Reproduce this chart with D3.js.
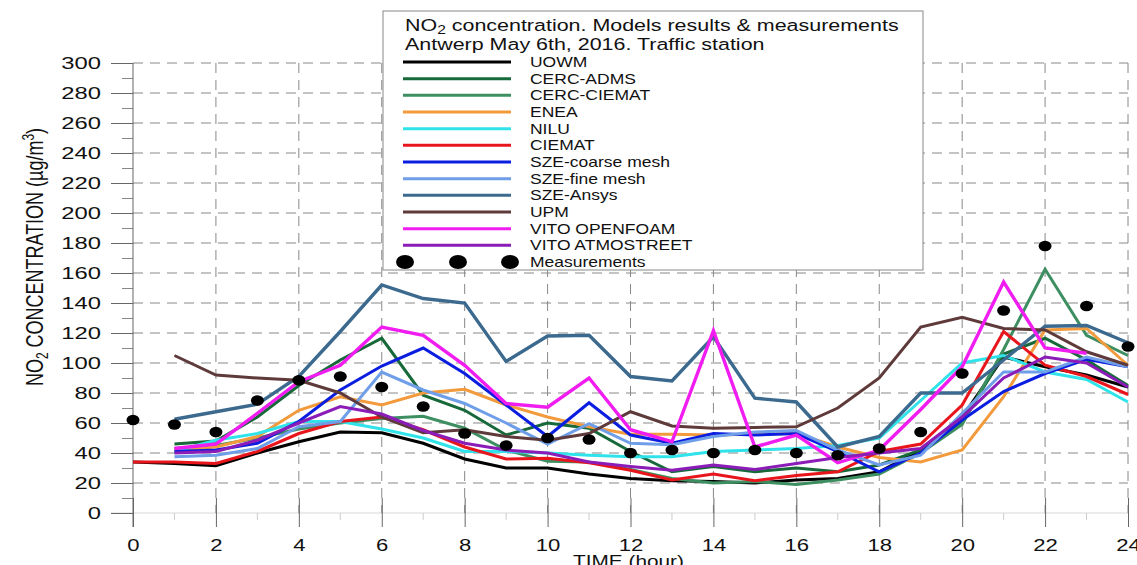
<!DOCTYPE html>
<html>
<head>
<meta charset="utf-8">
<script src="https://cdn.jsdelivr.net/npm/d3@7"></script>
<style>
  body { margin: 0; background: #fff; }
  svg { display: block; font-family: "Liberation Sans", Arial, sans-serif; }
</style>
</head>
<body>
<div id="chart"></div>
<script>
// hours 0..24
const hours = d3.range(0, 25);

// model results (null = no value)
const uowm        = [34, 33, 31.5, 40, 47.5, 54, 53.5, 46.5, 36, 30, 30, 26, 23, 21.5, 21, 20, 22, 23, 27.5, 42, 64, 104, 97.5, 92, 84];
const cercAdms    = [null, 46, 48, 64, 85, 102, 116.5, 78.5, 68.5, 52, 60, 56.5, 41, 27.5, 31, 27.5, 30, 27.5, 32, 42, 60, 106, 116.5, 102, 85];
const cercCiemat  = [null, 43, 45, 50, 56, 60, 63, 64.5, 56.5, 42, 34.5, 34, 29, 23, 20, 21, 19, 22, 26, 40, 59, 109, 162.5, 118.5, 105];
const enea        = [null, 42, 44, 51, 68.5, 77.5, 72, 80, 82.5, 72, 64, 57.5, 52.5, 52.5, 52, 52.5, 53, 44, 37, 34, 42, 77.5, 122, 123, 98.5];
const nilu        = [null, 41, 48.5, 53, 61, 61, 56, 50, 41, 41, 40, 38.5, 37.5, 37.5, 41, 42, 43, 45, 50, 75, 100, 105, 94, 89, 74];
const ciemat      = [34, 34, 33, 41, 53, 61, 64, 55.5, 44, 36, 36.5, 33.5, 28.5, 22, 26, 21.5, 25, 27.5, 41, 46, 72, 121, 98.5, 91, 79];
const szeCoarse   = [null, 41, 42, 46.5, 61, 82, 98, 110, 93, 72, 51, 73.5, 52, 46.5, 53, 52, 53, 41, 27.5, 40, 62, 81, 93, 102.5, 97.5];
const szeFine     = [null, 37.5, 38.5, 43, 57.5, 61, 94, 82, 73, 60, 46, 59.5, 46.5, 45.5, 51, 54, 55, 42, 32, 38.5, 66.5, 94, 94, 104, 97.5];
const szeAnsys    = [null, 62.5, 67.5, 72.5, 91, 121, 152, 143, 140, 101, 118, 118.5, 91, 88, 117.5, 76.5, 74, 44, 51, 80, 80, 102, 124.5, 125, 113.5];
const upm         = [null, 105, 92, 90, 88.5, 80, 64, 53.5, 55.5, 51, 48.5, 53, 67.5, 58, 56.5, 57, 57.5, 70, 90, 124, 130.5, 123, 122, 107.5, 98.5];
const vitoFoam    = [null, 43, 46, 66.5, 87.5, 98.5, 124, 118.5, 98.5, 73, 70.5, 90, 55.5, 47.5, 121.5, 44, 52, 33.5, 42, 69, 97.5, 154, 110, 106.5, null];
const vitoStreet  = [null, 40, 41, 48.5, 60, 71, 66, 55, 46.5, 42, 40, 34, 31, 28.5, 32, 29, 33, 37, 40, 43, 64, 90, 104, 100, 84];

// measurements
const measured    = [62, 59, 54, 75, 88.5, 91, 84, 71, 53, 45, 50, 49, 40, 42, 40, 42, 40, 38.5, 43, 54, 93, 135, 178, 138, 111];

const seriesNames  = ["UOWM", "CERC-ADMS", "CERC-CIEMAT", "ENEA", "NILU", "CIEMAT", "SZE-coarse mesh", "SZE-fine mesh", "SZE-Ansys", "UPM", "VITO OPENFOAM", "VITO ATMOSTREET"];
const seriesValues = [uowm, cercAdms, cercCiemat, enea, nilu, ciemat, szeCoarse, szeFine, szeAnsys, upm, vitoFoam, vitoStreet];
const seriesColors = ["#000000", "#17693a", "#3d8f61", "#f39a3c", "#30e3ea", "#e8161c", "#0b1ee0", "#6f9ee9", "#3c6a8f", "#5e3a3a", "#f01cf0", "#8b1cb8"];

const yTicks = d3.range(0, 301, 20);
const xTicks = d3.range(0, 25, 2);

// horizontal text stretch (the original picture is widened)
const sx = 1.3;

const margin = { top: 63, right: 9, bottom: 52, left: 133 },
      width = 1137 - margin.left - margin.right,
      height = 565 - margin.top - margin.bottom;
const plotH = 450; // 0..300

const svg = d3.select("#chart").append("svg")
    .attr("width", 1137)
    .attr("height", 565);

const g = svg.append("g")
    .attr("transform", `translate(${margin.left},${margin.top})`);

const x = d3.scaleLinear().domain([0, 24]).range([0, width]);
const y = d3.scaleLinear().domain([0, 300]).range([plotH, 0]);

// grid
g.append("g")
    .selectAll("line")
    .data(yTicks.filter(d => d > 0))
    .enter().append("line")
    .attr("x1", 0).attr("x2", width)
    .attr("y1", d => y(d)).attr("y2", d => y(d))
    .attr("stroke", "#888")
    .attr("stroke-dasharray", "10,7");

g.append("line")
    .attr("x1", -22).attr("x2", width)
    .attr("y1", y(0)).attr("y2", y(0))
    .attr("stroke", "#d8d8d8");

g.append("g")
    .selectAll("line")
    .data(xTicks.filter(d => d > 0))
    .enter().append("line")
    .attr("x1", d => x(d)).attr("x2", d => x(d))
    .attr("y1", y(300)).attr("y2", y(0))
    .attr("stroke", "#888")
    .attr("stroke-dasharray", "10,7");

// y axis
const yAxis = g.append("g")
    .call(d3.axisLeft(y).tickValues(yTicks).tickSize(22));
yAxis.select(".domain").remove();
yAxis.selectAll("line").attr("stroke", "#666");
yAxis.selectAll("text")
    .attr("x", 0)
    .attr("transform", `translate(-32,0) scale(1.4,1)`)
    .attr("fill", "#111")
    .style("font-size", "17px");

g.append("g")
    .call(d3.axisLeft(y).tickValues(d3.range(10, 300, 20)).tickSize(11).tickFormat(""))
    .call(a => a.select(".domain").remove())
    .selectAll("line").attr("stroke", "#888");

g.append("line")
    .attr("x1", 0).attr("x2", 0)
    .attr("y1", y(300)).attr("y2", y(0) + 14)
    .attr("stroke", "#666");

// x axis
const xAxis = g.append("g")
    .attr("transform", `translate(0,${y(0) + 14})`)
    .call(d3.axisBottom(x).tickValues(xTicks).tickSize(-29).tickPadding(10));
xAxis.select(".domain").remove();
xAxis.selectAll("line").attr("stroke", "#666");
xAxis.selectAll("text")
    .attr("y", 0)
    .attr("dy", 0)
    .attr("transform", `translate(0,24) scale(${sx},1)`)
    .attr("fill", "#111")
    .style("font-size", "17px");

g.append("g")
    .selectAll("line")
    .data(d3.range(1, 24, 2))
    .enter().append("line")
    .attr("x1", d => x(d)).attr("x2", d => x(d))
    .attr("y1", y(0)).attr("y2", y(0) + 7)
    .attr("stroke", "#ccc");

// axis titles
svg.append("text")
    .attr("transform", `translate(${margin.left + width / 2 - 2},567) scale(${sx},1)`)
    .attr("text-anchor", "middle")
    .style("font-size", "16px")
    .attr("fill", "#111")
    .text("TIME (hour)");

const yTitle = svg.append("text")
    .attr("transform", `translate(43,257) scale(1.3,1) rotate(-90)`)
    .attr("text-anchor", "middle")
    .style("font-size", "18px")
    .attr("fill", "#111");
yTitle.append("tspan").text("NO");
yTitle.append("tspan").attr("dy", 4).style("font-size", "12px").text("2");
yTitle.append("tspan").attr("dy", -4).text(" CONCENTRATION (");
yTitle.append("tspan").text("\u00b5g/m");
yTitle.append("tspan").attr("dy", -7).style("font-size", "12px").text("3");
yTitle.append("tspan").attr("dy", 7).text(")");

// model lines
const line = d3.line()
    .defined(d => d.v != null)
    .x(d => x(d.h))
    .y(d => y(d.v));

g.append("g")
    .selectAll("path")
    .data(seriesValues)
    .enter().append("path")
    .attr("fill", "none")
    .attr("stroke", (d, i) => seriesColors[i])
    .attr("stroke-width", (d, i) => (i === 8 || i === 10) ? 3.4 : 3)
    .attr("stroke-linejoin", "miter")
    .attr("d", d => line(d.map((v, h) => ({ h: hours[h], v: v }))));

// measurement dots
g.append("g")
    .selectAll("ellipse")
    .data(measured)
    .enter().append("ellipse")
    .attr("cx", (d, i) => x(hours[i]))
    .attr("cy", d => y(d))
    .attr("rx", 6.5)
    .attr("ry", 5.2)
    .attr("fill", "#000");

// legend
const legend = svg.append("g");

legend.append("rect")
    .attr("x", 383).attr("y", 11)
    .attr("width", 540).attr("height", 259)
    .attr("fill", "#fff")
    .attr("stroke", "#888");

const title1 = legend.append("text")
    .attr("transform", `translate(405,31) scale(${sx},1)`)
    .style("font-size", "16.5px")
    .attr("fill", "#111");
title1.append("tspan").text("NO");
title1.append("tspan").attr("dy", 3).style("font-size", "12px").text("2");
title1.append("tspan").attr("dy", -3).text(" concentration. Models results & measurements");

legend.append("text")
    .attr("transform", `translate(405,50) scale(${sx},1)`)
    .style("font-size", "16.5px")
    .attr("fill", "#111")
    .text("Antwerp May 6th, 2016. Traffic station");

const rows = legend.selectAll(".legend")
    .data(seriesNames)
    .enter().append("g")
    .attr("class", "legend")
    .attr("transform", (d, i) => `translate(0,${62 + i * 16.67})`);

rows.append("line")
    .attr("x1", 403).attr("x2", 511)
    .attr("stroke", (d, i) => seriesColors[i])
    .attr("stroke-width", 3);

rows.append("text")
    .attr("transform", `translate(530,5) scale(1.25,1)`)
    .style("font-size", "14px")
    .attr("fill", "#111")
    .text(d => d);

const mRow = legend.append("g").attr("transform", "translate(0,262)");
mRow.selectAll("ellipse")
    .data([405, 458, 510])
    .enter().append("ellipse")
    .attr("cx", d => d)
    .attr("rx", 9).attr("ry", 7)
    .attr("fill", "#000");
mRow.append("text")
    .attr("transform", `translate(530,5) scale(1.25,1)`)
    .style("font-size", "14px")
    .attr("fill", "#111")
    .text("Measurements");
</script>
</body>
</html>
